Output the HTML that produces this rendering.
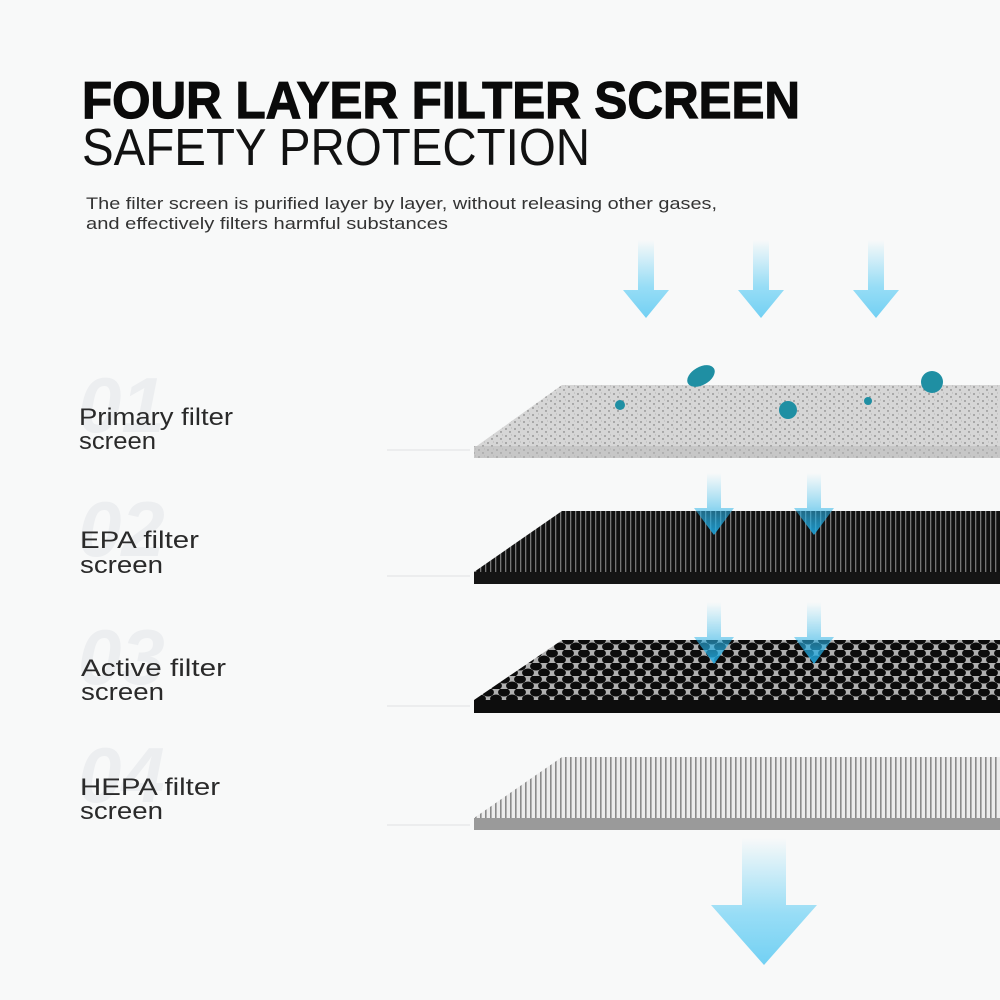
<!DOCTYPE html>
<html><head><meta charset="utf-8"><style>html,body{margin:0;padding:0;background:#f8f9f9}svg{display:block}</style></head>
<body>
<svg width="1000" height="1000" viewBox="0 0 1000 1000" xmlns="http://www.w3.org/2000/svg" font-family="Liberation Sans, sans-serif">
<defs>
<linearGradient id="ag" x1="0" y1="0" x2="0" y2="1"><stop offset="0" stop-color="#7fd6f5" stop-opacity="0"/><stop offset="0.6" stop-color="#7fd6f5" stop-opacity="0.8"/><stop offset="1" stop-color="#72d0f3"/></linearGradient>
<linearGradient id="ag2" x1="0" y1="0" x2="0" y2="1"><stop offset="0" stop-color="#3ec3f0" stop-opacity="0"/><stop offset="1" stop-color="#1fa8e0"/></linearGradient>
<pattern id="stripe" width="5" height="10" patternUnits="userSpaceOnUse"><rect width="5" height="10" fill="#111"/><rect width="1.3" height="10" fill="#777"/></pattern>
<pattern id="hex" width="16" height="13" patternUnits="userSpaceOnUse"><rect width="16" height="13" fill="#b0b0b0"/><ellipse cx="8" cy="3.25" rx="5.9" ry="4.3" fill="#0c0c0c"/><ellipse cx="0" cy="9.75" rx="5.9" ry="4.3" fill="#0c0c0c"/><ellipse cx="16" cy="9.75" rx="5.9" ry="4.3" fill="#0c0c0c"/></pattern>
<pattern id="hepa" width="5" height="10" patternUnits="userSpaceOnUse"><rect width="5" height="10" fill="#ececec"/><rect width="1.6" height="10" fill="#8a8a8a"/></pattern>
<pattern id="foam" width="9" height="7" patternUnits="userSpaceOnUse"><rect width="9" height="7" fill="#d6d6d6"/><circle cx="2" cy="2" r="0.9" fill="#888"/><circle cx="6" cy="5" r="0.7" fill="#666"/><circle cx="7.5" cy="1" r="0.5" fill="#aaa"/></pattern>
</defs>
<text x="82" y="118" font-size="52" font-weight="bold" fill="#0a0a0a" textLength="718" lengthAdjust="spacingAndGlyphs" stroke="#0a0a0a" stroke-width="1.2">FOUR LAYER FILTER SCREEN</text>
<text x="82" y="165" font-size="52" fill="#111" textLength="508" lengthAdjust="spacingAndGlyphs">SAFETY PROTECTION</text>
<text x="86" y="209" font-size="17" fill="#333" textLength="631" lengthAdjust="spacingAndGlyphs">The filter screen is purified layer by layer, without releasing other gases,</text>
<text x="86" y="229" font-size="17" fill="#333" textLength="362" lengthAdjust="spacingAndGlyphs">and effectively filters harmful substances</text>

<g font-style="italic" font-weight="bold" font-size="78" fill="#eceef0">
<text x="78" y="432">01</text><text x="78" y="556">02</text><text x="78" y="684">03</text><text x="78" y="802">04</text></g>
<g font-size="24" fill="#2a2a2a">
<text x="79" y="425" textLength="154" lengthAdjust="spacingAndGlyphs">Primary filter</text><text x="79" y="449" textLength="77" lengthAdjust="spacingAndGlyphs">screen</text>
<text x="80" y="548" textLength="119" lengthAdjust="spacingAndGlyphs">EPA filter</text><text x="80" y="573" textLength="83" lengthAdjust="spacingAndGlyphs">screen</text>
<text x="81" y="676" textLength="145" lengthAdjust="spacingAndGlyphs">Active filter</text><text x="81" y="700" textLength="83" lengthAdjust="spacingAndGlyphs">screen</text>
<text x="80" y="795" textLength="140" lengthAdjust="spacingAndGlyphs">HEPA filter</text><text x="80" y="819" textLength="83" lengthAdjust="spacingAndGlyphs">screen</text></g>
<g stroke="#e4e6e8" stroke-width="1.2"><line x1="387" y1="450" x2="470" y2="450"/><line x1="387" y1="576" x2="470" y2="576"/><line x1="387" y1="706" x2="470" y2="706"/><line x1="387" y1="825" x2="470" y2="825"/></g>

<g fill="url(#ag)">
<path d="M638 240h16v50h15l-23 28l-23-28h15z"/>
<path d="M753 240h16v50h15l-23 28l-23-28h15z"/>
<path d="M868 240h16v50h15l-23 28l-23-28h15z"/>
</g>
<path d="M474 448 L562 385 H1000 V448 Z" fill="url(#foam)"/>
<rect x="474" y="446" width="526" height="12" fill="#b8b8b8"/>
<rect x="474" y="446" width="526" height="12" fill="url(#foam)" opacity="0.5"/>
<g fill="#1f8fa3"><circle cx="620" cy="405" r="5"/><circle cx="788" cy="410" r="9"/><circle cx="868" cy="401" r="4"/><circle cx="932" cy="382" r="11"/><ellipse cx="701" cy="376" rx="15" ry="9" transform="rotate(-30 701 376)"/></g>
<path d="M474 572 L562 511 H1000 V572 Z" fill="url(#stripe)"/>
<rect x="474" y="572" width="526" height="12" fill="#151515"/>
<path d="M474 700 L562 640 H1000 V700 Z" fill="url(#hex)"/>
<rect x="474" y="700" width="526" height="13" fill="#0d0d0d"/>
<path d="M474 818 L562 757 H1000 V818 Z" fill="url(#hepa)"/>
<rect x="474" y="818" width="526" height="12" fill="#9a9a9a"/>
<g fill="url(#ag2)" opacity="0.9">
<path d="M707 473h14v35h13l-20 27l-20-27h13z"/>
<path d="M807 473h14v35h13l-20 27l-20-27h13z"/>
<path d="M707 602h14v35h13l-20 27l-20-27h13z"/>
<path d="M807 602h14v35h13l-20 27l-20-27h13z"/>
</g>
<path d="M742 838h44v67h31l-53 60l-53-60h31z" fill="url(#ag)"/>
</svg>
</body></html>
